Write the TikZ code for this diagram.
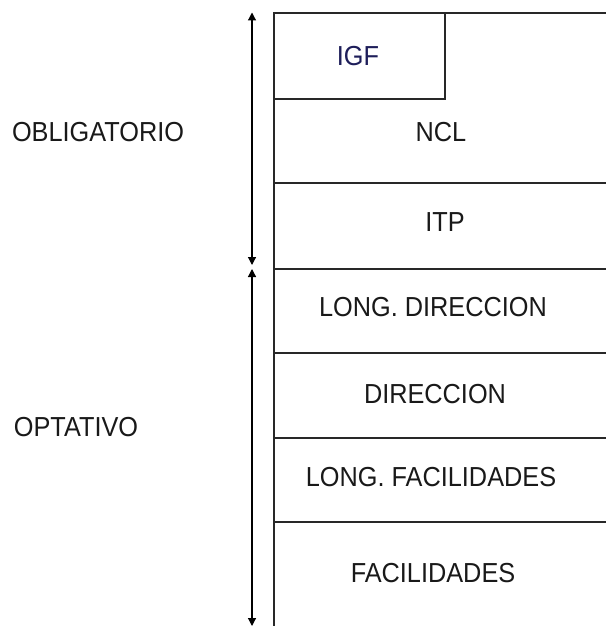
\documentclass[tikz,border=0pt]{standalone}
\usepackage{fontspec}
\setmainfont{Liberation Sans}[FakeStretch=0.92]
\usetikzlibrary{arrows.meta}
\definecolor{navy}{RGB}{30,30,90}
\definecolor{linegray}{RGB}{40,40,40}
\definecolor{textgray}{RGB}{25,25,25}
\tikzset{
  lbl/.style={inner sep=0pt, anchor=center, font=\fontsize{27.5}{30}\selectfont, text=textgray},
  frame/.style={draw=linegray, line width=1.3pt},
  span/.style={draw=black, line width=1.2pt, {Triangle[length=8pt,width=8pt]}-{Triangle[length=8pt,width=8pt]}}
}
\begin{document}
\begin{tikzpicture}[x=1pt,y=-1pt]
\useasboundingbox (0,0) rectangle (606,626);
% frame lines
\draw[frame] (274,626) -- (274,13) -- (606,13);
\draw[frame] (274,99) -- (445,99) -- (445,13);
\draw[frame] (274,183) -- (606,183);
\draw[frame] (274,269) -- (606,269);
\draw[frame] (274,353) -- (606,353);
\draw[frame] (274,438) -- (606,438);
\draw[frame] (274,522) -- (606,522);
% span arrows
\coordinate (o1) at (252,12.5);
\coordinate (o2) at (252,265);
\coordinate (p1) at (252,269);
\coordinate (p2) at (252,626);
\draw[span] (o1) -- (o2);
\draw[span] (p1) -- (p2);
% labels
\node[lbl, text=navy] (igf) at (358,56) {IGF};
\node[lbl] (ncl) at (441,132) {NCL};
\node[lbl] (itp) at (445,222) {ITP};
\node[lbl] (ldir) at (433,307) {LONG. DIRECCION};
\node[lbl] (dir) at (435,394.5) {DIRECCION};
\node[lbl] (lfac) at (431,477) {LONG. FACILIDADES};
\node[lbl] (fac) at (433,573) {FACILIDADES};
\node[lbl] (obl) at (98,132) {OBLIGATORIO};
\node[lbl] (opt) at (76,427.5) {OPTATIVO};
\end{tikzpicture}
\end{document}
